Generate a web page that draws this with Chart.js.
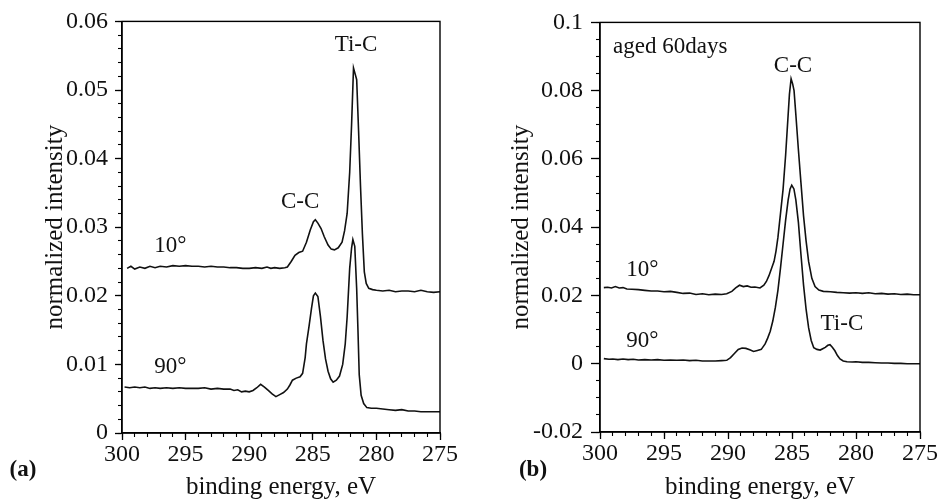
<!DOCTYPE html>
<html>
<head>
<meta charset="utf-8">
<style>
  body { margin: 0; background: #fff; }
  #wrap { position: relative; width: 942px; height: 504px; }
  canvas { position: absolute; top: 0; }
  #chartA { left: 0; }
  #chartB { left: 471px; }
</style>
</head>
<body>
<div id="wrap">
  <canvas id="chartA" width="471" height="504"></canvas>
  <canvas id="chartB" width="471" height="504"></canvas>
</div>
<script src="https://cdn.jsdelivr.net/npm/chart.js"></script>
<script>
// (a) C 1s spectra, fresh film: 10° and 90° take-off angle
const a10Energy = [299.6, 299.3, 299.0, 298.6, 298.2, 297.8, 297.4, 297.0, 296.5, 296.0, 295.5, 295.0, 294.5, 294.0, 293.5, 293.0, 292.5, 292.0, 291.5, 291.0, 290.5, 290.0, 289.5, 289.0, 288.6, 288.3, 288.0, 287.6, 287.2, 287.0, 286.7, 286.4, 286.1, 285.8, 285.5, 285.2, 284.95, 284.8, 284.6, 284.35, 284.1, 283.8, 283.55, 283.3, 283.0, 282.7, 282.5, 282.3, 282.1, 281.95, 281.8, 281.65, 281.55, 281.4, 281.25, 281.1, 280.95, 280.8, 280.6, 280.3, 280.0, 279.5, 279.0, 278.5, 278.0, 277.5, 277.0, 276.5, 276.0, 275.5, 275.0];
const a10Intensity = [0.0240, 0.0243, 0.0239, 0.0242, 0.0240, 0.0243, 0.0241, 0.0243, 0.0242, 0.0244, 0.0243, 0.0244, 0.0243, 0.0243, 0.0242, 0.0243, 0.0242, 0.0242, 0.0241, 0.0241, 0.0240, 0.0240, 0.0241, 0.0240, 0.0242, 0.0240, 0.0241, 0.0240, 0.0241, 0.0242, 0.0250, 0.0259, 0.0263, 0.0265, 0.0278, 0.0296, 0.0308, 0.0311, 0.0306, 0.0298, 0.0286, 0.0274, 0.0268, 0.0267, 0.0270, 0.0278, 0.0295, 0.0320, 0.0380, 0.0450, 0.0532, 0.0522, 0.0515, 0.0440, 0.0360, 0.0290, 0.0235, 0.0218, 0.0211, 0.0209, 0.0208, 0.0207, 0.0208, 0.0206, 0.0207, 0.0207, 0.0206, 0.0208, 0.0206, 0.0205, 0.0206];

const a90Energy = [299.8, 299.4, 299.0, 298.6, 298.2, 297.8, 297.4, 297.0, 296.5, 296.0, 295.5, 295.0, 294.5, 294.0, 293.5, 293.0, 292.5, 292.0, 291.5, 291.2, 290.9, 290.6, 290.3, 290.0, 289.7, 289.4, 289.1, 288.8, 288.5, 288.2, 287.9, 287.6, 287.3, 287.0, 286.8, 286.6, 286.3, 286.0, 285.8, 285.6, 285.5, 285.3, 285.1, 284.95, 284.8, 284.6, 284.4, 284.2, 284.0, 283.8, 283.6, 283.4, 283.15, 282.9, 282.65, 282.45, 282.3, 282.1, 281.95, 281.85, 281.7, 281.55, 281.45, 281.35, 281.2, 281.0, 280.75, 280.4, 280.0, 279.5, 279.0, 278.5, 278.0, 277.5, 277.0, 276.5, 276.0, 275.5, 275.0];
const a90Intensity = [0.0067, 0.0066, 0.0067, 0.0066, 0.0067, 0.0065, 0.0066, 0.0065, 0.0066, 0.0065, 0.0066, 0.0065, 0.0065, 0.0065, 0.0066, 0.0064, 0.0065, 0.0064, 0.0064, 0.0062, 0.0063, 0.0060, 0.0061, 0.0060, 0.0062, 0.0066, 0.0071, 0.0067, 0.0062, 0.0057, 0.0053, 0.0056, 0.0059, 0.0064, 0.0070, 0.0077, 0.0080, 0.0082, 0.0087, 0.0110, 0.0130, 0.0155, 0.0182, 0.0200, 0.0204, 0.0199, 0.0170, 0.0135, 0.0108, 0.0090, 0.0079, 0.0074, 0.0077, 0.0083, 0.0100, 0.0130, 0.0169, 0.0240, 0.0270, 0.0282, 0.0272, 0.0210, 0.0150, 0.0085, 0.0055, 0.0043, 0.0037, 0.0036, 0.0036, 0.0035, 0.0034, 0.0033, 0.0034, 0.0032, 0.0032, 0.0031, 0.0031, 0.0031, 0.0031];

// (b) same film aged 60 days
const b10Energy = [299.7, 299.4, 299.1, 298.8, 298.5, 298.2, 297.9, 297.5, 297.0, 296.5, 296.0, 295.5, 295.0, 294.5, 294.0, 293.5, 293.0, 292.5, 292.0, 291.5, 291.0, 290.5, 290.1, 289.7, 289.4, 289.1, 288.8, 288.5, 288.2, 287.9, 287.5, 287.2, 287.0, 286.8, 286.6, 286.4, 286.25, 286.1, 285.9, 285.7, 285.5, 285.35, 285.2, 285.07, 284.95, 284.84, 284.7, 284.5, 284.3, 284.1, 283.9, 283.7, 283.45, 283.2, 282.9, 282.55, 282.0, 281.5, 281.0, 280.5, 280.0, 279.5, 279.0, 278.5, 278.0, 277.5, 277.0, 276.5, 276.0, 275.5, 275.0];
const b10Intensity = [0.0223, 0.0224, 0.0222, 0.0226, 0.0222, 0.0223, 0.0219, 0.0218, 0.0217, 0.0215, 0.0213, 0.0213, 0.0211, 0.0212, 0.0209, 0.0206, 0.0207, 0.0203, 0.0205, 0.0202, 0.0204, 0.0203, 0.0205, 0.0212, 0.0222, 0.0230, 0.0226, 0.0228, 0.0224, 0.0225, 0.0222, 0.0230, 0.0241, 0.0258, 0.0279, 0.0300, 0.0330, 0.0370, 0.0440, 0.0510, 0.0610, 0.0700, 0.0790, 0.0835, 0.0820, 0.0800, 0.0730, 0.0627, 0.0530, 0.0434, 0.0360, 0.0299, 0.0250, 0.0226, 0.0216, 0.0212, 0.0211, 0.0209, 0.0208, 0.0207, 0.0208, 0.0206, 0.0208, 0.0205, 0.0206, 0.0204, 0.0205, 0.0203, 0.0204, 0.0202, 0.0202];

const b90Energy = [299.7, 299.3, 299.0, 298.6, 298.2, 297.8, 297.4, 297.0, 296.5, 296.0, 295.5, 295.0, 294.5, 294.0, 293.5, 293.0, 292.5, 292.0, 291.5, 291.0, 290.5, 290.1, 289.8, 289.5, 289.2, 288.9, 288.6, 288.3, 288.0, 287.7, 287.4, 287.1, 286.9, 286.7, 286.5, 286.3, 286.1, 285.9, 285.7, 285.5, 285.3, 285.15, 285.02, 284.85, 284.7, 284.5, 284.3, 284.1, 283.9, 283.7, 283.5, 283.3, 283.05, 282.8, 282.6, 282.4, 282.2, 282.03, 281.85, 281.65, 281.45, 281.25, 281.0, 280.7, 280.3, 280.0, 279.5, 279.0, 278.5, 278.0, 277.5, 277.0, 276.5, 276.0, 275.5, 275.0];
const b90Intensity = [0.0015, 0.0013, 0.0014, 0.0012, 0.0014, 0.0012, 0.0013, 0.0011, 0.0012, 0.0011, 0.0012, 0.0010, 0.0011, 0.0010, 0.0011, 0.0009, 0.0010, 0.0008, 0.0008, 0.0008, 0.0009, 0.0010, 0.0018, 0.0030, 0.0042, 0.0046, 0.0045, 0.0041, 0.0036, 0.0039, 0.0042, 0.0058, 0.0075, 0.0095, 0.0125, 0.0165, 0.0215, 0.0280, 0.0350, 0.0420, 0.0480, 0.0512, 0.0523, 0.0512, 0.0480, 0.0414, 0.0320, 0.0231, 0.0160, 0.0105, 0.0068, 0.0047, 0.0042, 0.0040, 0.0044, 0.0048, 0.0054, 0.0056, 0.0048, 0.0038, 0.0024, 0.0014, 0.0008, 0.0006, 0.0005, 0.0006, 0.0004, 0.0004, 0.0003, 0.0002, 0.0002, 0.0001, 0.0001, 0.0000, 0.0000, 0.0000];

const energyTicks = [300, 295, 290, 285, 280, 275];

const FONT = '"Liberation Serif", "Times New Roman", serif';

function toPoints(xs, ys) {
  return xs.map((x, i) => ({ x: x, y: ys[i] }));
}

function fmt(v) {
  return String(parseFloat(v.toFixed(3)));
}

// frame, axis titles, peak labels and panel letter
const panelText = {
  id: 'panelText',
  afterDraw(chart, args, o) {
    const ctx = chart.ctx;
    const ca = chart.chartArea;
    const sx = chart.scales.x, sy = chart.scales.y;
    ctx.save();
    ctx.strokeStyle = '#000';
    ctx.lineWidth = 1.4;
    ctx.strokeRect(ca.left, ca.top, ca.right - ca.left, ca.bottom - ca.top);

    ctx.fillStyle = '#111';
    ctx.textBaseline = 'middle';
    ctx.font = '23px ' + FONT;
    o.notes.forEach(n => {
      ctx.textAlign = n.align || 'center';
      ctx.fillText(n.text, sx.getPixelForValue(n.e), sy.getPixelForValue(n.v));
    });

    ctx.font = '25px ' + FONT;
    ctx.textAlign = 'center';
    ctx.fillText('binding energy, eV', (ca.left + ca.right) / 2, 487);

    ctx.save();
    ctx.translate(o.yTitleX, (ca.top + ca.bottom) / 2);
    ctx.rotate(-Math.PI / 2);
    ctx.fillText('normalized intensity', 0, 0);
    ctx.restore();

    ctx.font = 'bold 23px ' + FONT;
    ctx.fillText(o.letter, o.letterX, 470);
    ctx.restore();
  }
};

function makePanel(id, cfg) {
  const line = (pts) => ({
    data: pts,
    showLine: true,
    borderColor: '#111',
    borderWidth: 1.6,
    pointRadius: 0,
    tension: 0,
    xAxisID: 'x',
    yAxisID: 'y'
  });

  return new Chart(document.getElementById(id), {
    type: 'scatter',
    data: { datasets: cfg.series.map(line) },
    plugins: [panelText],
    options: {
      responsive: false,
      animation: false,
      layout: { padding: { left: 0, top: cfg.top, right: cfg.right, bottom: 0 } },
      plugins: {
        legend: { display: false },
        tooltip: { enabled: false },
        panelText: cfg.text
      },
      scales: {
        x: {
          type: 'linear', min: 275, max: 300, reverse: true, position: 'bottom', weight: 1,
          afterBuildTicks: s => { s.ticks = energyTicks.map(v => ({ value: v })); },
          ticks: { padding: 0, color: '#111', maxRotation: 0, autoSkip: false,
                   font: { family: FONT, size: 24 }, callback: v => String(v) },
          grid: { drawOnChartArea: false, tickLength: 7, tickColor: '#000', tickWidth: 1.3 },
          border: { color: '#000', width: 1.4 },
          afterFit: s => { s.height = cfg.xHeight; }
        },
        xMinor: {
          type: 'linear', min: 275, max: 300, reverse: true, position: 'bottom', weight: 0,
          ticks: { stepSize: 1, display: false, autoSkip: false },
          grid: { drawOnChartArea: false, tickLength: 4, tickColor: '#000', tickWidth: 1.1 },
          border: { display: false },
          afterFit: s => { s.height = 0; }
        },
        y: {
          type: 'linear', min: cfg.yMin, max: cfg.yMax, position: 'left', weight: 1,
          ticks: { stepSize: cfg.yStep, padding: cfg.yPad, color: '#111', autoSkip: false,
                   font: { family: FONT, size: 24 }, callback: v => fmt(v) },
          grid: { drawOnChartArea: false, tickLength: cfg.yTick, tickColor: '#000', tickWidth: 1.3 },
          border: { color: '#000', width: 1.4 },
          afterFit: s => { s.width = cfg.yWidth; }
        },
        yMinor: {
          type: 'linear', min: cfg.yMin, max: cfg.yMax, position: 'left', weight: 0,
          ticks: { stepSize: cfg.yMinorStep, display: false, autoSkip: false },
          grid: { drawOnChartArea: false, tickLength: 4, tickColor: '#000', tickWidth: 1.1 },
          border: { display: false },
          afterFit: s => { s.width = 0; }
        }
      }
    }
  });
}

makePanel('chartA', {
  series: [toPoints(a10Energy, a10Intensity), toPoints(a90Energy, a90Intensity)],
  top: 20, right: 31, xHeight: 71, yWidth: 122,
  yMin: 0, yMax: 0.06, yStep: 0.01, yMinorStep: 0.002, yTick: 7, yPad: 7,
  text: {
    letter: '(a)', letterX: 23, yTitleX: 55,
    notes: [
      { text: 'Ti-C', e: 281.6, v: 0.0565 },
      { text: 'C-C', e: 286.0, v: 0.0337 },
      { text: '10°', e: 296.2, v: 0.0272 },
      { text: '90°', e: 296.2, v: 0.0097 }
    ]
  }
});

makePanel('chartB', {
  series: [toPoints(b10Energy, b10Intensity), toPoints(b90Energy, b90Intensity)],
  top: 18, right: 22, xHeight: 72, yWidth: 129,
  yMin: -0.02, yMax: 0.1, yStep: 0.02, yMinorStep: 0.005, yTick: 9, yPad: 8,
  text: {
    letter: '(b)', letterX: 62, yTitleX: 50,
    notes: [
      { text: 'aged 60days', e: 298.98, v: 0.0928, align: 'left' },
      { text: 'C-C', e: 284.92, v: 0.0872 },
      { text: 'Ti-C', e: 281.1, v: 0.0116 },
      { text: '10°', e: 296.7, v: 0.0275 },
      { text: '90°', e: 296.7, v: 0.0067 }
    ]
  }
});
</script>
</body>
</html>
